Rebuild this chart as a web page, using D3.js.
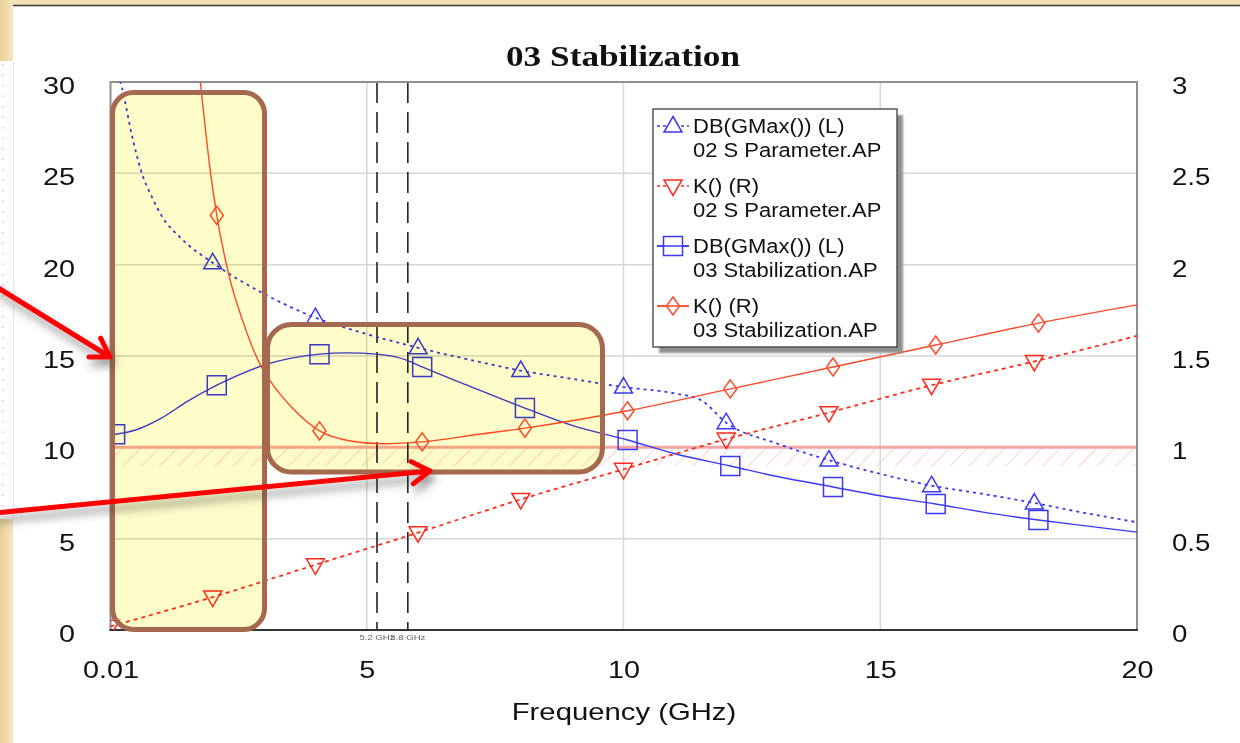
<!DOCTYPE html>
<html><head><meta charset="utf-8">
<script src="https://cdn.jsdelivr.net/npm/d3@7"></script>
<style>html,body{margin:0;padding:0;background:#fff;overflow:hidden}</style>
</head><body>
<svg id="c" width="1240" height="743"></svg>
<script>
// ---------- data ----------
const xTicks = [0.01, 5, 10, 15, 20];
const xTickLabels = ["0.01", "5", "10", "15", "20"];
const yLeftTicks = [0, 5, 10, 15, 20, 25, 30];
const yRightTicks = [0, 0.5, 1, 1.5, 2, 2.5, 3];
const yRightLabels = ["0", "0.5", "1", "1.5", "2", "2.5", "3"];

// DB(GMax()) 02 S Parameter (left axis, dB)
const gmax02F = [0.01, 0.15, 0.23, 0.45, 0.62, 0.8, 1.0, 1.4, 2, 3, 4, 5, 6, 7, 8, 9, 10, 11, 11.5, 12, 13, 14, 15, 16, 17, 18, 19, 20];
const gmax02V = [31.5, 30.5, 29.7, 26.8, 25.0, 23.8, 22.7, 21.4, 20.1, 18.4, 17.1, 16.2, 15.45, 14.8, 14.2, 13.75, 13.3, 12.95, 12.6, 11.35, 10.2, 9.3, 8.55, 7.9, 7.45, 6.95, 6.4, 5.9];
const gmax02Markers = [2, 4, 6, 8, 10, 12, 14, 16, 18];

// K() 02 S Parameter (right axis)
const k02F = [0.01, 2, 4, 6, 8, 10, 12, 14, 16, 18, 20];
const k02V = [0.02, 0.18, 0.357, 0.533, 0.715, 0.88, 1.045, 1.19, 1.34, 1.47, 1.61];
const k02Markers = [0.01, 2, 4, 6, 8, 10, 12, 14, 16, 18];

// DB(GMax()) 03 Stabilization (left axis, dB)
const gmax03F = [0.01, 0.1, 0.5, 1.0, 1.5, 2.08, 3.0, 4.08, 4.6, 5.2, 5.8, 6.08, 7, 8.08, 9, 10.08, 11, 12.08, 13, 14.08, 15, 16.08, 17, 18.08, 19, 20];
const gmax03V = [10.7, 10.72, 10.95, 11.6, 12.5, 13.4, 14.5, 15.1, 15.17, 15.1, 14.75, 14.4, 13.35, 12.15, 11.2, 10.4, 9.65, 8.98, 8.4, 7.83, 7.35, 6.9, 6.45, 6.02, 5.7, 5.36];
const gmax03Markers = [0.1, 2.08, 4.08, 6.08, 8.08, 10.08, 12.08, 14.08, 16.08, 18.08];

// K() 03 Stabilization (right axis)
const k03F = [1.6, 1.76, 1.96, 2.08, 2.31, 2.6, 2.93, 3.13, 3.57, 4.08, 4.68, 5.3, 6.08, 7.15, 8.08, 10.08, 12.08, 14.08, 16.08, 18.08, 20];
const k03V = [3.45, 3.0, 2.5, 2.27, 1.95, 1.68, 1.45, 1.36, 1.21, 1.09, 1.035, 1.02, 1.03, 1.07, 1.105, 1.2, 1.32, 1.44, 1.56, 1.68, 1.78];
const k03Markers = [2.08, 4.08, 6.08, 8.08, 10.08, 12.08, 14.08, 16.08, 18.08];

const markerLines = [5.2, 5.8];
const markerLineLabels = ["5.2 GHz", "5.8 GHz"];
const stabilityLimit = 1; // K = 1

const legendLabels = [
  ["DB(GMax()) (L)", "02 S Parameter.AP"],
  ["K() (R)", "02 S Parameter.AP"],
  ["DB(GMax()) (L)", "03 Stabilization.AP"],
  ["K() (R)", "03 Stabilization.AP"]
];

// ---------- setup ----------
const svg = d3.select("#c");
const L = 110.5, R = 1137, T = 82, B = 630;
const x = d3.scaleLinear().domain([0.01, 20]).range([L, R]);
const yL = d3.scaleLinear().domain([0, 30]).range([B, T]);
const yR = d3.scaleLinear().domain([0, 3]).range([B, T]);

const BLUE = "#3a3af5", RED = "#ff2a1a", REDK = "#ff4a2a";
const FONT = "'Liberation Sans', Arial, sans-serif";

function stretch(sel, f) {
  sel.each(function () {
    const w = this.getComputedTextLength();
    d3.select(this).attr("textLength", w * f).attr("lengthAdjust", "spacingAndGlyphs");
  });
}

const defs = svg.append("defs");
defs.append("clipPath").attr("id", "plotClip").append("rect")
  .attr("x", L).attr("y", T).attr("width", R - L).attr("height", B - T);
const pat = defs.append("pattern").attr("id", "hatch").attr("patternUnits", "userSpaceOnUse")
  .attr("width", 13).attr("height", 13).attr("patternTransform", "rotate(45)");
pat.append("line").attr("x1", 0).attr("y1", 0).attr("x2", 0).attr("y2", 13)
  .attr("stroke", "#ffb0b0").attr("stroke-width", 1.2);
const sh = defs.append("filter").attr("id", "shadow").attr("x", "-20%").attr("y", "-50%").attr("width", "140%").attr("height", "200%");
sh.append("feDropShadow").attr("dx", 3).attr("dy", 7).attr("stdDeviation", 4)
  .attr("flood-color", "#444").attr("flood-opacity", 0.55);
const sh2 = defs.append("filter").attr("id", "lshadow");
sh2.append("feGaussianBlur").attr("stdDeviation", 1);

// ---------- slide background decoration ----------
svg.append("rect").attr("width", 1240).attr("height", 743).attr("fill", "#fff");
const beige = defs.append("linearGradient").attr("id", "beige").attr("x1", 0).attr("x2", 1).attr("y1", 0).attr("y2", 0);
beige.append("stop").attr("offset", 0).attr("stop-color", "#e9cf95");
beige.append("stop").attr("offset", 1).attr("stop-color", "#f6e6c0");
svg.append("rect").attr("x", 0).attr("y", 0).attr("width", 1240).attr("height", 5).attr("fill", "#f3e1b6");
svg.append("rect").attr("x", 0).attr("y", 0).attr("width", 13).attr("height", 743).attr("fill", "url(#beige)");
svg.append("rect").attr("x", 0).attr("y", 61).attr("width", 13).attr("height", 458).attr("fill", "#fff");
svg.append("line").attr("x1", 3).attr("x2", 3).attr("y1", 64).attr("y2", 515)
  .attr("stroke", "#bbb").attr("stroke-dasharray", "1.5,9");
svg.append("line").attr("x1", 13.5).attr("x2", 13.5).attr("y1", 61).attr("y2", 519).attr("stroke", "#e6e6e6");
svg.append("line").attr("x1", 13).attr("x2", 1240).attr("y1", 5.5).attr("y2", 5.5).attr("stroke", "#3a3a3a").attr("stroke-width", 1.6);

// ---------- title ----------
svg.append("text").attr("x", 623).attr("y", 66).attr("text-anchor", "middle")
  .attr("font-family", "'Liberation Serif', 'Times New Roman', serif").attr("font-weight", "bold")
  .attr("font-size", 29).attr("fill", "#111").text("03 Stabilization")
  .attr("textLength", 234).attr("lengthAdjust", "spacingAndGlyphs");

// ---------- grid ----------
const grid = svg.append("g");
grid.selectAll(".hg").data(yLeftTicks.slice(1, -1)).join("line")
  .attr("x1", L).attr("x2", R).attr("y1", d => yL(d)).attr("y2", d => yL(d))
  .attr("stroke", "#d6d6d6").attr("stroke-width", 1.5);
grid.selectAll(".vg").data(xTicks.slice(1, -1)).join("line")
  .attr("x1", d => x(d)).attr("x2", d => x(d)).attr("y1", T).attr("y2", B)
  .attr("stroke", "#d6d6d6").attr("stroke-width", 1.5);

// stability hatch below K=1
svg.append("rect").attr("x", L).attr("y", yR(stabilityLimit)).attr("width", R - L).attr("height", 19)
  .attr("fill", "url(#hatch)");
svg.append("line").attr("x1", L).attr("x2", R).attr("y1", yR(stabilityLimit)).attr("y2", yR(stabilityLimit))
  .attr("stroke", "#f6a5a5").attr("stroke-width", 3);

// marker dashed lines
svg.selectAll(".ml").data(markerLines).join("line")
  .attr("x1", d => x(d)).attr("x2", d => x(d)).attr("y1", T).attr("y2", B)
  .attr("stroke", "#222").attr("stroke-width", 1.6).attr("stroke-dasharray", "21,9");
const mlt = svg.selectAll(".mlt").data(markerLines).join("text")
  .attr("x", d => x(d)).attr("y", 640).attr("text-anchor", "middle")
  .attr("font-family", FONT).attr("font-size", 8).attr("fill", "#666")
  .text((d, i) => markerLineLabels[i]);
stretch(mlt, 1.2);

// ---------- frame ----------
svg.append("rect").attr("x", L).attr("y", T).attr("width", R - L).attr("height", B - T)
  .attr("fill", "none").attr("stroke", "#8e8e8e").attr("stroke-width", 2);
svg.append("line").attr("x1", L - 1).attr("x2", R + 1).attr("y1", B).attr("y2", B)
  .attr("stroke", "#333").attr("stroke-width", 2);

// ---------- axes (labels) ----------
const axB = svg.append("g").attr("transform", `translate(0,${B})`)
  .call(d3.axisBottom(x).tickValues(xTicks).tickSize(0).tickPadding(0).tickFormat((d, i) => xTickLabels[i]));
axB.select(".domain").remove();
axB.selectAll("text").attr("y", 48).attr("dy", null).attr("font-family", FONT).attr("font-size", 24).attr("fill", "#111");
stretch(axB.selectAll("text"), 1.2);

const axL = svg.append("g").attr("transform", `translate(75,3)`)
  .call(d3.axisLeft(yL).tickValues(yLeftTicks).tickSize(0).tickPadding(0).tickFormat(d3.format("d")));
axL.select(".domain").remove();
axL.selectAll("text").attr("x", 0).attr("dy", "0.36em").attr("font-family", FONT).attr("font-size", 24).attr("fill", "#111");
stretch(axL.selectAll("text"), 1.2);

const axR = svg.append("g").attr("transform", `translate(1172,3)`)
  .call(d3.axisRight(yR).tickValues(yRightTicks).tickSize(0).tickPadding(0).tickFormat((d, i) => yRightLabels[i]));
axR.select(".domain").remove();
axR.selectAll("text").attr("x", 0).attr("dy", "0.36em").attr("font-family", FONT).attr("font-size", 24).attr("fill", "#111");
stretch(axR.selectAll("text"), 1.15);

const xl = svg.append("text").attr("x", 624).attr("y", 720).attr("text-anchor", "middle")
  .attr("font-family", FONT).attr("font-size", 24).attr("fill", "#111").text("Frequency (GHz)");
stretch(xl, 1.22);

// ---------- markers ----------
const sym = {
  up: "M0,-9.5L9,6L-9,6Z",
  down: "M0,9.5L9,-6L-9,-6Z",
  square: "M-9.5,-9.5H9.5V9.5H-9.5Z",
  diamond: "M0,-9L6.5,0L0,9L-6.5,0Z"
};

const series = [
  { f: gmax02F, v: gmax02V, m: gmax02Markers, y: yL, color: BLUE, dash: "3,4", w: 1.8, shape: "up" },
  { f: k02F, v: k02V, m: k02Markers, y: yR, color: RED, dash: "4,4", w: 1.8, shape: "down" },
  { f: gmax03F, v: gmax03V, m: gmax03Markers, y: yL, color: BLUE, dash: null, w: 1.4, shape: "square" },
  { f: k03F, v: k03V, m: k03Markers, y: yR, color: REDK, dash: null, w: 1.4, shape: "diamond" }
];

const plot = svg.append("g").attr("clip-path", "url(#plotClip)");
series.forEach(s => {
  const pts = s.f.map((f, i) => [f, s.v[i]]);
  const line = d3.line().x(d => x(d[0])).y(d => s.y(d[1])).curve(d3.curveMonotoneX);
  plot.append("path").attr("d", line(pts)).attr("fill", "none")
    .attr("stroke", s.color).attr("stroke-width", s.w)
    .attr("stroke-dasharray", s.dash);
  const mk = pts.filter(d => s.m.includes(d[0]));
  plot.selectAll(null).data(mk).join("path")
    .attr("transform", d => `translate(${x(d[0])},${s.y(d[1])})`)
    .attr("d", sym[s.shape]).attr("fill", "none").attr("stroke", s.color).attr("stroke-width", 1.5);
});

// ---------- legend ----------
const lg = svg.append("g");
lg.append("rect").attr("x", 659).attr("y", 115).attr("width", 244).attr("height", 238).attr("fill", "#8f8f8f").attr("filter", "url(#lshadow)");
lg.append("rect").attr("x", 653).attr("y", 109).attr("width", 244).attr("height", 238).attr("fill", "#fff").attr("stroke", "#3c3c3c").attr("stroke-width", 1.3);
series.forEach((s, i) => {
  const b1 = 133 + i * 60, b2 = b1 + 24;
  const cy = b1 - 7;
  lg.append("line").attr("x1", 657).attr("x2", 689).attr("y1", cy).attr("y2", cy)
    .attr("stroke", s.color).attr("stroke-width", 1.5).attr("stroke-dasharray", s.dash ? "3,3" : null);
  lg.append("path").attr("transform", `translate(673,${cy})`).attr("d", sym[s.shape])
    .attr("fill", "#fff").attr("stroke", s.color).attr("stroke-width", 1.5);
  if (!s.dash) lg.append("line").attr("x1", 657).attr("x2", 689).attr("y1", cy).attr("y2", cy)
    .attr("stroke", s.color).attr("stroke-width", 1.5);
  const t1 = lg.append("text").attr("x", 693).attr("y", b1).attr("font-family", FONT).attr("font-size", 20).attr("fill", "#111").text(legendLabels[i][0]);
  const t2 = lg.append("text").attr("x", 693).attr("y", b2).attr("font-family", FONT).attr("font-size", 20).attr("fill", "#111").text(legendLabels[i][1]);
  stretch(t1, 1.1); stretch(t2, 1.1);
});

// ---------- annotation boxes ----------
const boxes = [
  { x: 112.5, y: 92.5, w: 152, h: 537, r: 21 },
  { x: 267.5, y: 324.5, w: 335, h: 147.5, r: 24 }
];
svg.selectAll(".box").data(boxes).join("rect")
  .attr("x", d => d.x).attr("y", d => d.y).attr("width", d => d.w).attr("height", d => d.h)
  .attr("rx", d => d.r).attr("ry", d => d.r)
  .attr("fill", "#fefcc8").style("mix-blend-mode", "multiply")
  .attr("stroke", "none");
svg.selectAll(".boxb").data(boxes).join("rect")
  .attr("x", d => d.x).attr("y", d => d.y).attr("width", d => d.w).attr("height", d => d.h)
  .attr("rx", d => d.r).attr("ry", d => d.r)
  .attr("fill", "none")
  .attr("stroke", "#a5694f").attr("stroke-width", 5);

// ---------- arrows ----------
const arrows = [
  { from: [-5, 286], to: [110, 357] },
  { from: [-5, 513], to: [430, 471] }
];
const ag = svg.append("g").attr("filter", "url(#shadow)");
arrows.forEach(a => {
  const ang = Math.atan2(a.to[1] - a.from[1], a.to[0] - a.from[0]) + Math.PI;
  const len = 21, spread = 32 * Math.PI / 180;
  const b1 = [a.to[0] + len * Math.cos(ang - spread), a.to[1] + len * Math.sin(ang - spread)];
  const b2 = [a.to[0] + len * Math.cos(ang + spread), a.to[1] + len * Math.sin(ang + spread)];
  ag.append("path")
    .attr("d", `M${a.from}L${a.to}M${b1}L${a.to}L${b2}`)
    .attr("fill", "none").attr("stroke", "#ff0000").attr("stroke-width", 5)
    .attr("stroke-linecap", "round").attr("stroke-linejoin", "round");
});
</script>
</body></html>
